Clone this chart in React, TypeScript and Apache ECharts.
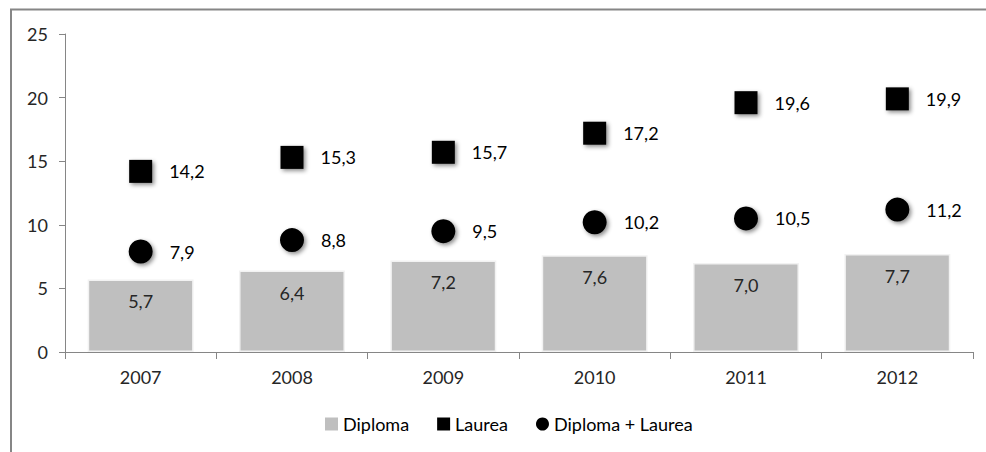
import React, { useEffect, useRef } from "react";
import * as echarts from "echarts";

const years = ["2007", "2008", "2009", "2010", "2011", "2012"];
const diploma = [5.7, 6.4, 7.2, 7.6, 7.0, 7.7];
const laurea = [14.2, 15.3, 15.7, 17.2, 19.6, 19.9];
const diplomaLaurea = [7.9, 8.8, 9.5, 10.2, 10.5, 11.2];

const fmt = (p: any) => Number(p.value).toFixed(1).replace(".", ",");
const FONT = "Lato, 'Noto Sans', sans-serif";
const FS = 18;

export default function App() {
  const ref = useRef<HTMLDivElement>(null);
  useEffect(() => {
    if (!ref.current) return;
    const chart = echarts.init(ref.current, null, { renderer: "svg" });
    const shadow = {
      shadowBlur: 4,
      shadowColor: "rgba(0,0,0,0.45)",
      shadowOffsetX: 2,
      shadowOffsetY: 2,
    };
    chart.setOption({
      animation: false,
      backgroundColor: "#ffffff",
      textStyle: { fontFamily: FONT },
      graphic: [
        {
          type: "rect",
          shape: { x: 11, y: 9.5, width: 1000, height: 460 },
          style: { fill: "none", stroke: "#868686", lineWidth: 2 },
          silent: true,
        },
      ],
      grid: { left: 65, right: 13, top: 34, bottom: 100 },
      legend: {
        bottom: 14,
        left: 320,
        itemWidth: 13,
        itemHeight: 13,
        itemGap: 28,
        textStyle: { fontSize: FS, color: "#000", fontFamily: FONT },
        data: [
          { name: "Diploma", icon: "rect", itemStyle: { color: "#bfbfbf", borderWidth: 0 } },
          { name: "Laurea", icon: "rect" },
          { name: "Diploma + Laurea", icon: "circle" },
        ],
      },
      xAxis: {
        type: "category",
        data: years,
        axisLine: { lineStyle: { color: "#868686" } },
        axisTick: { show: true, length: 7, lineStyle: { color: "#868686" } },
        axisLabel: { fontSize: FS, color: "#262626", margin: 16, fontFamily: FONT },
      },
      yAxis: {
        type: "value",
        min: 0,
        max: 25,
        interval: 5,
        axisLine: { show: true, lineStyle: { color: "#868686" } },
        axisTick: { show: true, length: 6, lineStyle: { color: "#868686" } },
        axisLabel: { fontSize: FS, color: "#262626", margin: 17, fontFamily: FONT },
        splitLine: { show: false },
      },
      series: [
        {
          name: "Diploma",
          type: "bar",
          data: diploma,
          barCategoryGap: "30%",
          itemStyle: {
            color: "#bfbfbf",
            borderColor: "#f2f2f2",
            borderWidth: 1.5,
          },
          label: {
            show: true,
            position: "insideTop",
            distance: 13,
            formatter: fmt,
            fontSize: FS,
            color: "#262626",
            fontFamily: FONT,
          },
        },
        {
          name: "Laurea",
          type: "scatter",
          data: laurea,
          symbol: "rect",
          symbolSize: 23,
          itemStyle: { color: "#000000", opacity: 1, ...shadow },
          label: {
            show: true,
            position: "right",
            distance: 17,
            formatter: fmt,
            fontSize: FS,
            color: "#000",
            fontFamily: FONT,
          },
        },
        {
          name: "Diploma + Laurea",
          type: "scatter",
          data: diplomaLaurea,
          symbol: "circle",
          symbolSize: 24,
          itemStyle: { color: "#000000", opacity: 1, ...shadow },
          label: {
            show: true,
            position: "right",
            distance: 17,
            formatter: fmt,
            fontSize: FS,
            color: "#000",
            fontFamily: FONT,
          },
        },
      ],
    });
    return () => chart.dispose();
  }, []);
  return (
    <div
      ref={ref}
      style={{ position: "fixed", left: 0, top: 0, width: 986, height: 452 }}
    />
  );
}
